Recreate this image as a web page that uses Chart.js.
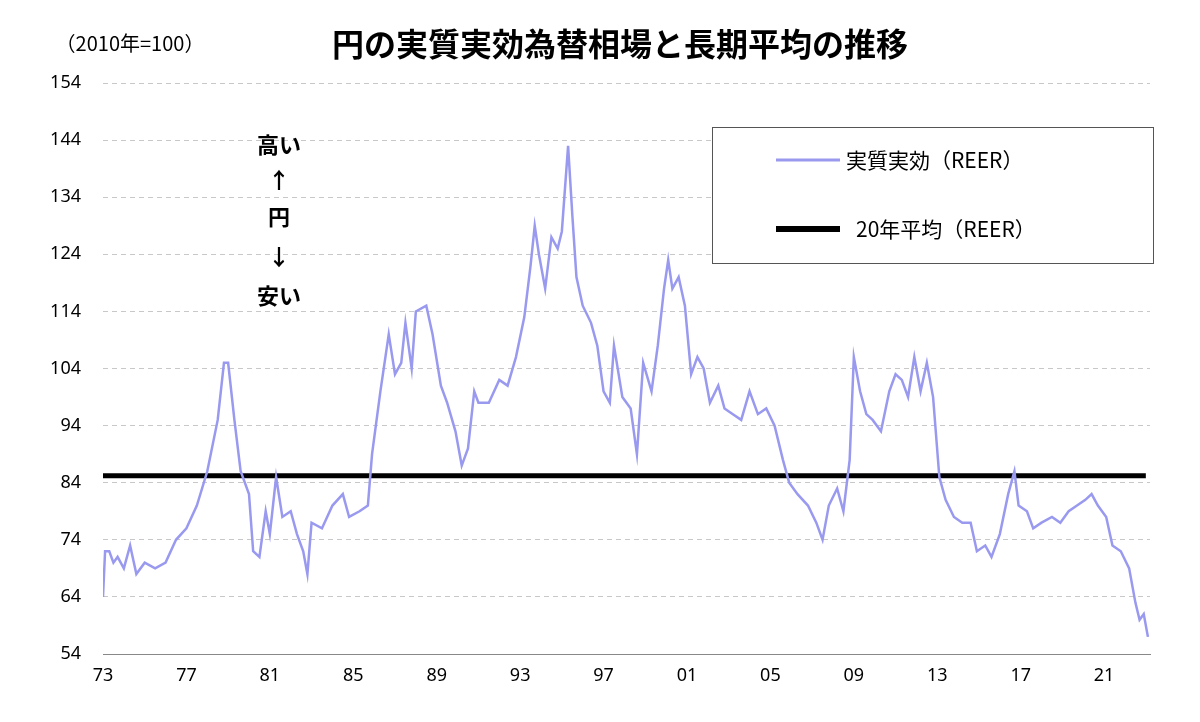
<!DOCTYPE html>
<html><head><meta charset="utf-8">
<script src="https://cdn.jsdelivr.net/npm/chart.js@4"></script>
<style>body{margin:0;background:#fff}</style>
</head><body>
<canvas id="c" width="1200" height="722"></canvas>
<script>
// 実質実効為替レート（年, 値）を目で読んだもの
var years = [1973.0,1973.1,1973.3,1973.5,1973.7,1974.0,1974.3,1974.6,1975,1975.5,1976,1976.5,1977,1977.5,1978,1978.5,1978.8,1979,1979.3,1979.6,1980,1980.2,1980.5,1980.8,1981,1981.3,1981.6,1982,1982.3,1982.6,1982.8,1983,1983.5,1984,1984.5,1984.8,1985.3,1985.7,1985.9,1986.3,1986.7,1987,1987.3,1987.5,1987.8,1988,1988.5,1988.8,1989.2,1989.5,1989.9,1990.2,1990.5,1990.8,1991,1991.5,1992,1992.4,1992.8,1993.2,1993.5,1993.7,1993.9,1994.2,1994.5,1994.8,1995,1995.3,1995.5,1995.7,1996,1996.4,1996.7,1997,1997.3,1997.5,1997.9,1998.3,1998.6,1998.9,1999.3,1999.6,1999.9,2000.1,2000.3,2000.6,2000.9,2001.2,2001.5,2001.8,2002.1,2002.5,2002.8,2003.2,2003.6,2004,2004.4,2004.8,2005.2,2005.6,2005.9,2006.3,2006.8,2007.2,2007.5,2007.8,2008.2,2008.5,2008.8,2009,2009.3,2009.6,2009.9,2010.3,2010.7,2011,2011.3,2011.6,2011.9,2012.2,2012.5,2012.8,2013.1,2013.4,2013.8,2014.2,2014.6,2014.9,2015.3,2015.6,2016,2016.4,2016.7,2016.9,2017.3,2017.6,2018,2018.5,2018.9,2019.3,2019.7,2020.1,2020.4,2020.7,2021.1,2021.4,2021.8,2022.2,2022.5,2022.7,2022.9,2023.1];
var reer = [64,72,72,70,71,69,73,68,70,69,70,74,76,80,86,95,105,105,95,86,82,72,71,79,75,85,78,79,75,72,68,77,76,80,82,78,79,80,89,100,110,103,105,112,104,114,115,110,101,98,93,87,90,100,98,98,102,101,106,113,122,129,124,118,127,125,128,143,131,120,115,112,108,100,98,108,99,97,89,105,100,108,118,123,118,120,115,103,106,104,98,101,97,96,95,100,96,97,94,88,84,82,80,77,74,80,83,79,88,106,100,96,95,93,100,103,102,99,106,100,105,99,85,81,78,77,77,72,73,71,75,82,86,80,79,76,77,78,77,79,80,81,82,80,78,73,72,69,63,60,61,57];
var avgYears = [1973.0, 2023.0];
var avgValue = 85.2;
var yTicks = [54,64,74,84,94,104,114,124,134,144,154];

var textPlugin = {
  id: 'texts',
  afterDraw: function(chart) {
    var ctx = chart.ctx;
    ctx.save();
    ctx.fillStyle = '#000';
    ctx.textAlign = 'center';
    ctx.textBaseline = 'middle';
    ctx.font = 'bold 32px "Noto Sans CJK JP"';
    ctx.fillText('円の実質実効為替相場と長期平均の推移', 620, 44);
    ctx.font = '20px "Noto Sans CJK JP"';
    ctx.fillText('（2010年=100）', 130, 43);
    ctx.font = 'bold 22px "Noto Sans CJK JP"';
    ['高い','↑','円','↓','安い'].forEach(function(t, i) {
      ctx.fillText(t, 279, [145,180,217,257,296][i]);
    });
    // 凡例
    ctx.fillStyle = '#fff';
    ctx.fillRect(712, 127, 441, 136);
    ctx.strokeStyle = '#555';
    ctx.lineWidth = 1;
    ctx.strokeRect(712.5, 127.5, 441, 136);
    ctx.strokeStyle = '#9999f0';
    ctx.lineWidth = 3;
    ctx.beginPath(); ctx.moveTo(776, 160); ctx.lineTo(840, 160); ctx.stroke();
    ctx.strokeStyle = '#000';
    ctx.lineWidth = 6;
    ctx.beginPath(); ctx.moveTo(776, 229); ctx.lineTo(840, 229); ctx.stroke();
    ctx.fillStyle = '#000';
    ctx.textAlign = 'left';
    ctx.font = '21px "Noto Sans CJK JP"';
    ctx.fillText('実質実効（REER）', 846, 160);
    ctx.fillText('20年平均（REER）', 856, 229);
    ctx.restore();
  }
};

new Chart(document.getElementById('c'), {
  type: 'line',
  data: {
    datasets: [{
      data: years.map(function(y, i) { return {x: y, y: reer[i]}; }),
      borderColor: '#9999f0', borderWidth: 2.5, pointRadius: 0, tension: 0
    }, {
      data: avgYears.map(function(y) { return {x: y, y: avgValue}; }),
      borderColor: '#000', borderWidth: 5, pointRadius: 0
    }]
  },
  options: {
    responsive: false, animation: false,
    layout: {padding: {top: 83, right: 50}},
    plugins: {legend: {display: false}, tooltip: {enabled: false}},
    scales: {
      x: {
        type: 'linear', min: 1973, max: 2023.2,
        afterBuildTicks: function(s) { s.ticks = []; for (var y = 1973; y <= 2021; y += 4) s.ticks.push({value: y}); },
        ticks: {color: '#000', font: {size: 18, family: 'Noto Sans'}, maxRotation: 0,
          callback: function(v) { return String(v % 100).padStart(2, '0'); }},
        grid: {display: false},
        border: {color: '#888'},
        afterFit: function(s) { s.height = 68; }
      },
      y: {
        min: 54, max: 154,
        afterBuildTicks: function(s) { s.ticks = yTicks.map(function(v) { return {value: v}; }); },
        ticks: {color: '#000', font: {size: 18, family: 'Noto Sans'}, padding: 22},
        grid: {color: '#c8c8c8', drawTicks: false},
        border: {display: false, dash: [5, 4]},
        afterFit: function(s) { s.width = 103; }
      }
    }
  },
  plugins: [textPlugin]
});
</script>
</body></html>
